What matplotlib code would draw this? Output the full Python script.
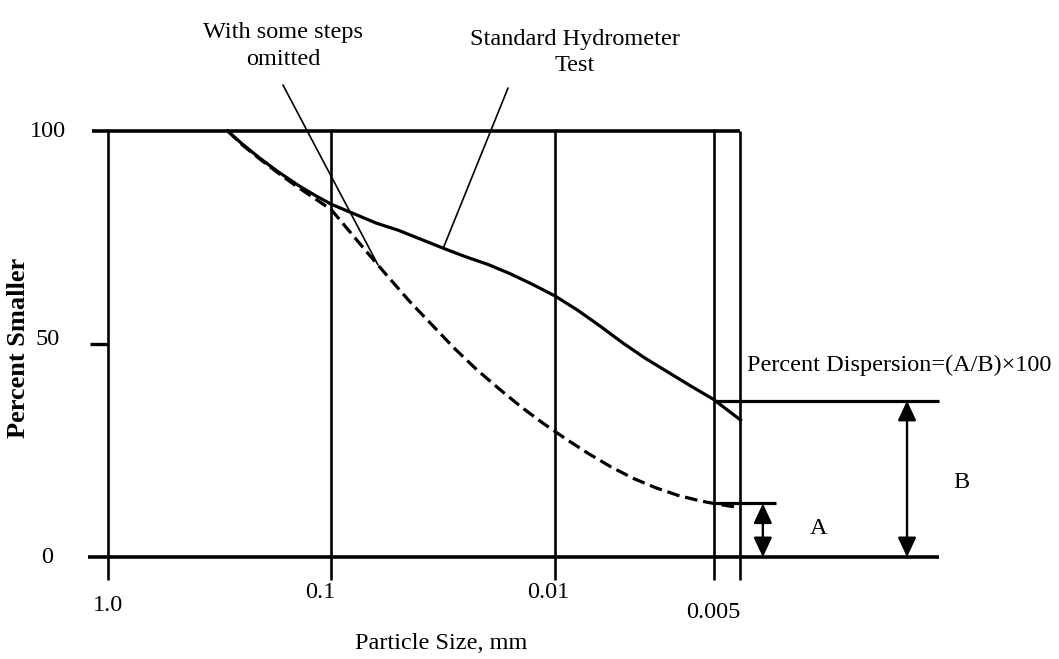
import matplotlib
matplotlib.use('Agg')
import matplotlib.pyplot as plt

# x is measured in log cycles from 1.0 mm (0 = 1.0, 1 = 0.1, 2 = 0.01 ...)
tick_labels = ['1.0', '0.1', '0.01', '0.005']
tick_pos = [0.0, 1.0, 2.0, 2.71]
edge_pos = 2.83
y_ticks = [100, 50, 0]

size_pos = [0.536, 0.60, 0.68, 0.76, 0.85, 0.93, 1.00, 1.10, 1.20, 1.30, 1.40,
            1.50, 1.60, 1.70, 1.80, 1.90, 2.00, 2.10, 2.20, 2.30, 2.40, 2.50,
            2.60, 2.71, 2.83]
standard_test = [100, 97.0, 93.6, 90.5, 87.3, 84.8, 82.8, 80.6, 78.4, 76.7, 74.6,
                 72.5, 70.5, 68.7, 66.5, 64.0, 61.3, 58.0, 54.3, 50.4, 46.8, 43.6,
                 40.4, 37.0, 32.2]

omit_pos = [0.536, 0.60, 0.68, 0.76, 0.85, 0.93, 1.00, 1.08, 1.16, 1.25, 1.35,
            1.45, 1.55, 1.65, 1.75, 1.85, 1.95, 2.05, 2.15, 2.25, 2.35, 2.45,
            2.55, 2.65, 2.71, 2.78, 2.83]
steps_omitted = [100, 96.8, 93.4, 90.2, 86.8, 84.0, 81.5, 76.5, 71.5, 66.0, 60.0,
                 54.5, 49.0, 44.0, 39.5, 35.2, 31.3, 27.7, 24.3, 21.2, 18.5, 16.3,
                 14.5, 13.2, 12.6, 12.0, 11.6]

A = 12.6
B = 36.7

plt.rcParams['font.family'] = ['Liberation Serif', 'DejaVu Serif']

fig = plt.figure(figsize=(10.59, 6.59), dpi=100)
ax = fig.add_axes([0, 0, 1, 1])
ax.set_xlim(-0.483, 4.255)
ax.set_ylim(-23.9, 130.75)
ax.axis('off')

k = 'black'
# frame: 100% and 0% lines, vertical size lines
ax.plot([-0.07, edge_pos], [100, 100], color=k, lw=2.6, solid_capstyle='butt')
ax.plot([-0.09, 3.72], [0, 0], color=k, lw=2.6, solid_capstyle='butt')
ax.plot([-0.08, 0], [50, 50], color=k, lw=2.4, solid_capstyle='butt')
for p in tick_pos + [edge_pos]:
    ax.plot([p, p], [-5.3, 100], color=k, lw=1.9, solid_capstyle='butt')

# gradation curves
ax.plot(size_pos, standard_test, color=k, lw=2.3)
ax.plot(omit_pos, steps_omitted, color=k, lw=2.3, dashes=(4, 1.8))

# A and B reference levels
ax.plot([tick_pos[-1], 3.72], [B, B], color=k, lw=2.3, solid_capstyle='butt')
ax.plot([tick_pos[-1], 2.99], [A, A], color=k, lw=2.3, solid_capstyle='butt')

arrow = dict(arrowstyle='<|-|>,head_length=0.6,head_width=0.28', color=k,
             lw=1.7, mutation_scale=20, shrinkA=0, shrinkB=0)
ax.annotate('', xy=(2.93, A), xytext=(2.93, 0), arrowprops=arrow)
ax.annotate('', xy=(3.575, B), xytext=(3.575, 0), arrowprops=arrow)

fs = 17.5
ax.text(3.18, 6.8, 'A', fontsize=fs, ha='center', va='center')
ax.text(3.82, 17.6, 'B', fontsize=fs, ha='center', va='center')
ax.text(2.86, 45.1, 'Percent Dispersion=(A/B)\u00d7100', fontsize=fs,
        ha='left', va='center')

# axis labels
label_y = [-11.3, -8.2, -8.2, -12.9]
label_x = [0.0, 0.95, 1.97, 2.71]
for lx, ly, t in zip(label_x, label_y, tick_labels):
    ax.text(lx, ly, t, fontsize=fs, ha='center', va='center')
for v in y_ticks:
    ax.text(-0.27, v + (1 if v == 50 else 0), str(v), fontsize=fs,
            ha='center', va='center')
ax.text(1.49, -20.2, 'Particle Size, mm', fontsize=fs, ha='center', va='center')
ax.text(-0.40, 49, 'Percent Smaller', fontsize=19, fontweight='bold',
        rotation=90, ha='center', va='center')

# callouts
ax.text(0.783, 120, 'With some steps\nomitted', fontsize=fs, ha='center',
        va='center', linespacing=1.35)
ax.annotate('', xy=(1.208, 68.6), xytext=(0.783, 110.8),
            arrowprops=dict(arrowstyle='-', color=k, lw=1.2,
                            shrinkA=0, shrinkB=0))
ax.text(2.09, 118.4, 'Standard Hydrometer\nTest', fontsize=fs, ha='center',
        va='center', linespacing=1.35)
ax.annotate('', xy=(1.50, 72.5), xytext=(1.79, 110.1),
            arrowprops=dict(arrowstyle='-', color=k, lw=1.2,
                            shrinkA=0, shrinkB=0))

fig.savefig('out.png', dpi=100)
